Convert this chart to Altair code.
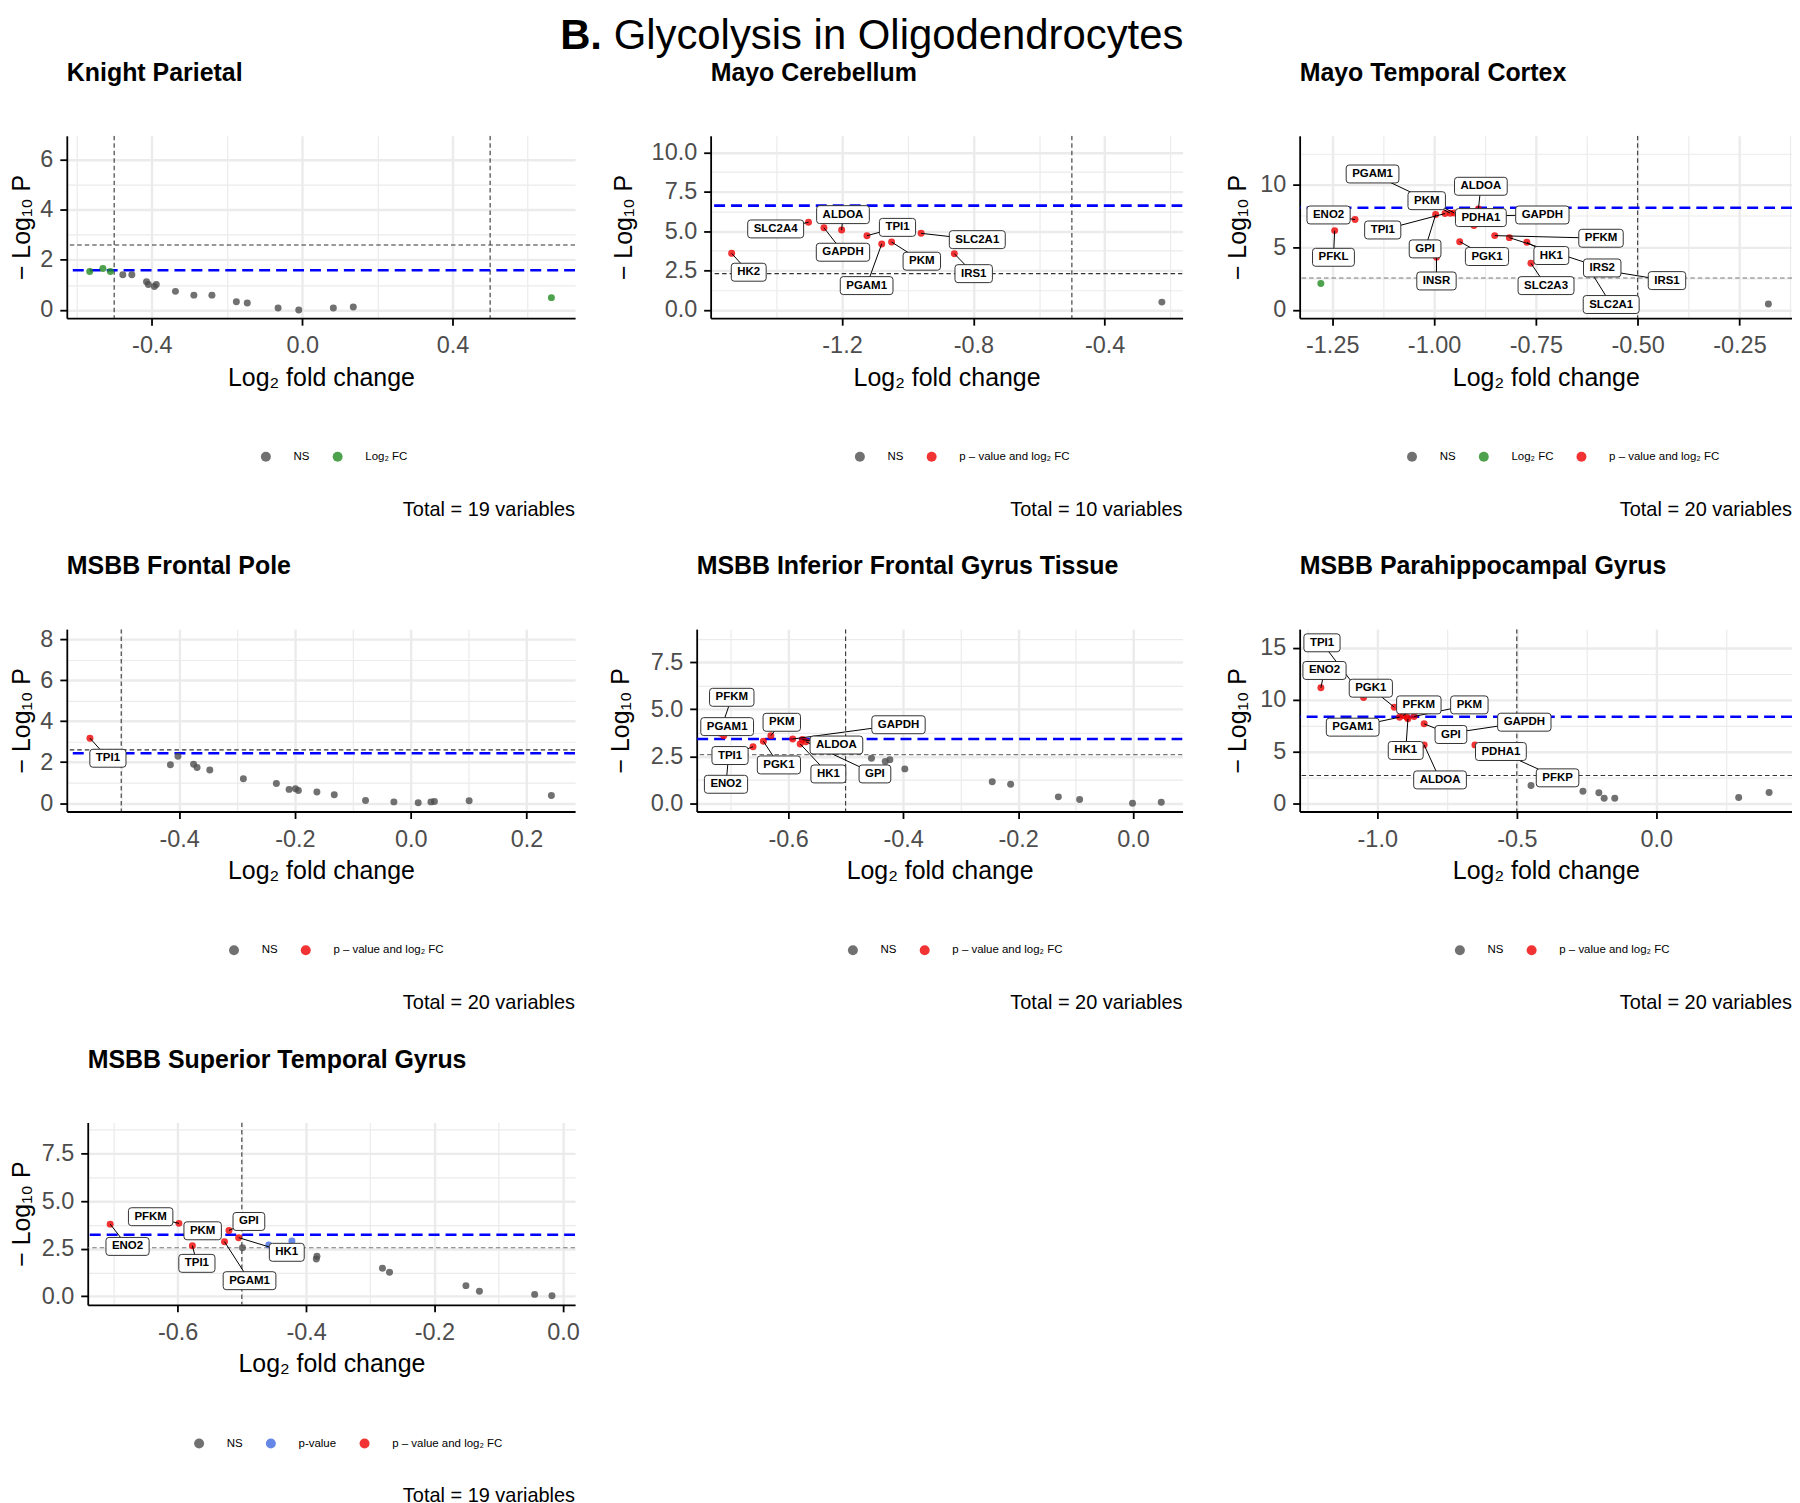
import json
import altair as alt
import pandas as pd

FONT = "Liberation Sans"

# ---------------- texts ----------------
TITLE_BOLD = "B."
TITLE_REST = "Glycolysis in Oligodendrocytes"
PANEL_NAMES = ["Knight Parietal", "Mayo Cerebellum", "Mayo Temporal Cortex", "MSBB Frontal Pole",
               "MSBB Inferior Frontal Gyrus Tissue", "MSBB Parahippocampal Gyrus",
               "MSBB Superior Temporal Gyrus"]
PANEL_TOTALS = [19, 10, 20, 20, 20, 20, 19]
X_TITLE = "Log\u2082 fold change"
Y_TITLE = "\u2212 Log\u2081\u2080 P"

CAT_CODES = ["N", "F", "P", "B"]
CAT_LABELS = ["NS", "Log\u2082 FC", "p-value", "p \u2013 value and log\u2082 FC"]
CAT_COLORS = ["#4d4d4d", "#228B22", "#4169E1", "#EE0000"]

# ---------------- thresholds ----------------
FC_CUTOFF = [-0.5, 0.5]
P_CUTOFF = [2.59, 2.30, 2.55, 2.60, 2.59, 2.67, 2.55]
FDR_LINE = [1.58, 6.62, 8.16, 2.43, 3.42, 8.34, 3.23]

# ---------------- data: Knight Parietal ----------------
P1_LFC = [-0.565, -0.530, -0.510, -0.477, -0.453, -0.414, -0.409, -0.393, -0.388, -0.337,
          -0.288, -0.240, -0.175, -0.146, -0.064, -0.009, 0.083, 0.136, 0.663]
P1_NLP = [1.53, 1.65, 1.53, 1.40, 1.40, 1.12, 1.01, 0.93, 1.01, 0.74,
          0.59, 0.59, 0.33, 0.28, 0.08, 0.00, 0.08, 0.12, 0.49]
P1_CAT = ["F", "F", "F", "N", "N", "N", "N", "N", "N", "N", "N", "N", "N", "N", "N", "N", "N", "N", "F"]
P1_GENE = []
P1_LAB_X = []
P1_LAB_Y = []

# ---------------- data: Mayo Cerebellum ----------------
P2_GENE = ["HK2", "SLC2A4", "GAPDH", "ALDOA", "TPI1", "PGAM1", "PKM", "SLC2A1", "IRS1", ""]
P2_LFC = [-1.536, -1.302, -1.255, -1.201, -1.124, -1.079, -1.049, -0.959, -0.858, -0.226]
P2_NLP = [3.59, 5.56, 5.22, 5.07, 4.71, 4.19, 4.31, 4.86, 3.57, 0.49]
P2_CAT = ["B", "B", "B", "B", "B", "B", "B", "B", "B", "N"]
P2_LAB_X = [-1.484, -1.402, -1.197, -1.197, -1.031, -1.125, -0.957, -0.788, -0.799, None]
P2_LAB_Y = [2.39, 5.14, 3.66, 6.05, 5.24, 1.54, 3.09, 4.46, 2.30, None]

# ---------------- data: Mayo Temporal Cortex ----------------
P3_GENE = ["PFKL", "ENO2", "GPI", "TPI1", "PKM", "PGAM1", "ALDOA", "PDHA1", "GAPDH", "INSR",
           "PGK1", "PFKM", "IRS2", "HK1", "SLC2A3", "SLC2A1", "IRS1", "", ""]
P3_LFC = [-1.244, -1.194, -0.996, -0.973, -0.960, -0.950, -0.891, -0.902, -0.836, -0.994,
          -0.937, -0.851, -0.815, -0.772, -0.762, -0.614, -0.552, -1.278, -0.179]
P3_NLP = [6.33, 7.21, 7.61, 7.69, 7.72, 7.74, 8.06, 6.73, 7.53, 4.20,
          5.45, 5.93, 5.77, 5.40, 3.72, 3.00, 3.00, 2.10, 0.48]
P3_CAT = ["B", "B", "B", "B", "B", "B", "B", "B", "B", "B",
          "B", "B", "B", "B", "B", "B", "B", "F", "N"]
P3_LAB_X = [-1.247, -1.259, -1.022, -1.126, -1.018, -1.151, -0.885, -0.885, -0.734, -0.994,
            -0.870, -0.590, -0.587, -0.712, -0.725, -0.565, -0.428, None, None]
P3_LAB_Y = [4.20, 7.58, 4.87, 6.38, 8.72, 10.85, 9.87, 7.37, 7.58, 2.31,
            4.26, 5.72, 3.35, 4.34, 1.94, 0.43, 2.34, None, None]

# ---------------- data: MSBB Frontal Pole ----------------
P4_GENE = ["TPI1", "", "", "", "", "", "", "", "", "", "", "", "", "", "", "", "", "", "", ""]
P4_LFC = [-0.554, -0.415, -0.402, -0.375, -0.369, -0.347, -0.289, -0.232, -0.210, -0.199,
          -0.194, -0.162, -0.132, -0.078, -0.029, 0.013, 0.035, 0.041, 0.101, 0.243]
P4_NLP = [3.17, 1.87, 2.29, 1.90, 1.74, 1.62, 1.19, 0.96, 0.67, 0.70,
          0.62, 0.54, 0.41, 0.13, 0.06, 0.02, 0.06, 0.08, 0.11, 0.37]
P4_CAT = ["B", "N", "N", "N", "N", "N", "N", "N", "N", "N",
          "N", "N", "N", "N", "N", "N", "N", "N", "N", "N"]
P4_LAB_X = [-0.523] + [None] * 19
P4_LAB_Y = [2.19] + [None] * 19

# ---------------- data: MSBB Inferior Frontal Gyrus Tissue ----------------
P5_GENE = ["PFKM", "PGAM1", "ENO2", "TPI1", "PGK1", "PKM", "GAPDH", "HK1", "ALDOA", "GPI",
           "", "", "", "", "", "", "", "", "", ""]
P5_LFC = [-0.719, -0.712, -0.703, -0.661, -0.643, -0.630, -0.592, -0.579, -0.575, -0.569,
          -0.455, -0.431, -0.423, -0.397, -0.245, -0.213, -0.130, -0.093, -0.001, 0.049]
P5_NLP = [3.74, 3.60, 2.71, 3.01, 3.30, 3.60, 3.42, 3.16, 3.39, 3.28,
          2.39, 2.23, 2.32, 1.83, 1.15, 1.01, 0.34, 0.20, 0.00, 0.05]
P5_CAT = ["B", "B", "B", "B", "B", "B", "B", "B", "B", "B",
          "N", "N", "N", "N", "N", "N", "N", "N", "N", "N"]
P5_LAB_X = [-0.698, -0.706, -0.708, -0.701, -0.616, -0.611, -0.408, -0.530, -0.516, -0.449] + [None] * 10
P5_LAB_Y = [5.64, 4.08, 1.01, 2.54, 2.04, 4.31, 4.18, 1.56, 3.10, 1.56] + [None] * 10

# ---------------- data: MSBB Parahippocampal Gyrus ----------------
P6_GENE = ["ENO2", "TPI1", "PGK1", "PFKM", "PGAM1", "HK1", "PKM", "GAPDH", "GPI", "PDHA1",
           "ALDOA", "PFKP", "", "", "", "", "", "", "", ""]
P6_LFC = [-1.202, -1.049, -0.939, -0.907, -0.920, -0.890, -0.868, -0.712, -0.832, -0.650,
          -0.832, -0.583, -0.894, -0.449, -0.263, -0.206, -0.187, -0.149, 0.295, 0.404]
P6_NLP = [11.14, 10.20, 9.27, 8.46, 8.30, 8.14, 8.37, 6.86, 7.66, 5.63,
          5.63, 5.25, 8.30, 1.71, 1.16, 1.00, 0.48, 0.48, 0.55, 1.03]
P6_CAT = ["B", "B", "B", "B", "B", "B", "B", "B", "B", "B",
          "B", "B", "B", "N", "N", "N", "N", "N", "N", "N"]
P6_LAB_X = [-1.189, -1.198, -1.023, -0.851, -1.088, -0.898, -0.670, -0.473, -0.736, -0.557,
            -0.775, -0.354] + [None] * 8
P6_LAB_Y = [12.81, 15.48, 11.10, 9.49, 7.34, 5.09, 9.49, 7.82, 6.63, 4.99,
            2.25, 2.45] + [None] * 8

# ---------------- data: MSBB Superior Temporal Gyrus ----------------
P7_GENE = ["ENO2", "PFKM", "TPI1", "PKM", "PGAM1", "GPI", "HK1",
           "", "", "", "", "", "", "", "", "", "", ""]
P7_LFC = [-0.705, -0.598, -0.577, -0.555, -0.527, -0.520, -0.505, -0.458, -0.422,
          -0.499, -0.384, -0.383, -0.281, -0.270, -0.151, -0.130, -0.044, -0.017]
P7_NLP = [3.79, 3.83, 2.66, 3.18, 2.87, 3.46, 3.08, 2.69, 2.90,
          2.55, 1.96, 2.10, 1.47, 1.26, 0.56, 0.26, 0.10, 0.03]
P7_CAT = ["B", "B", "B", "B", "B", "B", "B", "P", "P",
          "N", "N", "N", "N", "N", "N", "N", "N", "N"]
P7_LAB_X = [-0.678, -0.642, -0.570, -0.561, -0.488, -0.489, -0.430] + [None] * 11
P7_LAB_Y = [2.62, 4.18, 1.73, 3.44, 0.82, 3.93, 2.31] + [None] * 11

# ---------------- axes ticks ----------------
X_MAJOR = [[-0.4, 0.0, 0.4], [-1.2, -0.8, -0.4], [-1.25, -1.0, -0.75, -0.5, -0.25],
           [-0.4, -0.2, 0.0, 0.2], [-0.6, -0.4, -0.2, 0.0], [-1.0, -0.5, 0.0], [-0.6, -0.4, -0.2, 0.0]]
X_MINOR = [[-0.6, -0.2, 0.2, 0.6], [-1.4, -1.0, -0.6, -0.2], [-1.125, -0.875, -0.625, -0.375, -0.125],
           [-0.5, -0.3, -0.1, 0.1], [-0.7, -0.5, -0.3, -0.1], [-1.25, -0.75, -0.25, 0.25],
           [-0.7, -0.5, -0.3, -0.1]]
Y_MAJOR = [[0, 2, 4, 6], [0, 2.5, 5, 7.5, 10], [0, 5, 10], [0, 2, 4, 6, 8], [0, 2.5, 5, 7.5],
           [0, 5, 10, 15], [0, 2.5, 5, 7.5]]
Y_MINOR = [[1, 3, 5], [1.25, 3.75, 6.25, 8.75], [2.5, 7.5, 12.5], [1, 3, 5, 7],
           [1.25, 3.75, 6.25, 8.75], [2.5, 7.5, 12.5], [1.25, 3.75, 6.25, 8.75]]
X_FMT = [".1f", ".1f", ".2f", ".1f", ".1f", ".1f", ".1f"]
Y_FMT = [".0f", ".1f", ".0f", ".0f", ".1f", ".0f", ".1f"]

# ---------------- layout / style ----------------
WIDTHS = [510, 473.5, 494, 510, 487.5, 494, 489]
HEIGHT = 183
X_DOMAIN = [[-0.626, 0.726], [-1.600, -0.163], [-1.330, -0.121], [-0.594, 0.284],
            [-0.759, 0.086], [-1.278, 0.486], [-0.740, 0.019]]
Y_DOMAIN = [[-0.33, 6.95], [-0.53, 11.06], [-0.66, 13.9], [-0.41, 8.49],
            [-0.44, 9.27], [-0.80, 16.8], [-0.45, 9.13]]
HLINE_COLOR = ["#333333", "#333333", "#777777", "#333333", "#777777", "#333333", "#777777"]
Y_TITLE_PAD = [32.8, 74.8, 49.8, 32.8, 63.8, 49.8, 53.8]
LEGEND_X = [194, 144, 107, 162, 151, 155, 106]
TICK_FS = 23.5
AXIS_TITLE_FS = 25
SUBTITLE_FS = 25
TITLE_FS = 42

PANEL_DATA = [
    (P1_LFC, P1_NLP, P1_CAT, P1_GENE, P1_LAB_X, P1_LAB_Y),
    (P2_LFC, P2_NLP, P2_CAT, P2_GENE, P2_LAB_X, P2_LAB_Y),
    (P3_LFC, P3_NLP, P3_CAT, P3_GENE, P3_LAB_X, P3_LAB_Y),
    (P4_LFC, P4_NLP, P4_CAT, P4_GENE, P4_LAB_X, P4_LAB_Y),
    (P5_LFC, P5_NLP, P5_CAT, P5_GENE, P5_LAB_X, P5_LAB_Y),
    (P6_LFC, P6_NLP, P6_CAT, P6_GENE, P6_LAB_X, P6_LAB_Y),
    (P7_LFC, P7_NLP, P7_CAT, P7_GENE, P7_LAB_X, P7_LAB_Y),
]

BOLD_W = {"A": 722, "B": 722, "C": 722, "D": 722, "E": 667, "F": 611, "G": 778, "H": 722,
          "I": 278, "J": 556, "K": 722, "L": 611, "M": 833, "N": 722, "O": 778, "P": 667,
          "Q": 778, "R": 722, "S": 667, "T": 611, "U": 722, "V": 667, "W": 944, "X": 667,
          "Y": 667, "Z": 611}
LABEL_FS = 11.5


def text_width(s, fs):
    return sum(BOLD_W.get(c, 556) for c in s) * fs / 1000.0


def box_path(w, h, r=3.0, unit=10.0):
    a, b, q = w / 2 / unit, h / 2 / unit, r / unit
    f = lambda v: "%.3f" % v
    return ("M" + f(-a + q) + "," + f(-b) + "L" + f(a - q) + "," + f(-b) +
            "Q" + f(a) + "," + f(-b) + "," + f(a) + "," + f(-b + q) +
            "L" + f(a) + "," + f(b - q) +
            "Q" + f(a) + "," + f(b) + "," + f(a - q) + "," + f(b) +
            "L" + f(-a + q) + "," + f(b) +
            "Q" + f(-a) + "," + f(b) + "," + f(-a) + "," + f(b - q) +
            "L" + f(-a) + "," + f(-b + q) +
            "Q" + f(-a) + "," + f(-b) + "," + f(-a + q) + "," + f(-b) + "Z")


def make_axis(major, minor, fmt, title, is_y, tpad=10):
    test = "indexof(%s, datum.value) >= 0" % json.dumps(major)
    kw = dict(
        values=sorted(set(major + minor)),
        labelExpr="%s ? replace(format(datum.value, '%s'), '\u2212', '-') : ''" % (test, fmt),
        title=title, grid=True, gridColor="#ebebeb",
        gridWidth={"condition": {"test": test, "value": 2.4}, "value": 1.2},
        tickOpacity={"condition": {"test": test, "value": 1}, "value": 0},
        tickColor="black", tickWidth=1.8, tickSize=7,
        domainColor="black", domainWidth=1.8,
        labelFont=FONT, labelFontSize=TICK_FS, labelColor="#4d4d4d",
        labelOverlap=False, labelFlush=False,
        titleFont=FONT, titleFontSize=AXIS_TITLE_FS, titleFontWeight="normal", titleColor="black",
    )
    if is_y:
        kw.update(labelPadding=7, titlePadding=tpad, minExtent=0, maxExtent=0)
    else:
        kw.update(labelPadding=8.8, titlePadding=7.9)
    return alt.Axis(**kw)


def build_panel(i):
    lfc, nlp, cat, gene, labx, laby = PANEL_DATA[i]
    W = WIDTHS[i]
    xs = alt.Scale(domain=X_DOMAIN[i], nice=False, zero=False)
    ys = alt.Scale(domain=Y_DOMAIN[i], nice=False, zero=False)
    X = alt.X("lfc:Q", scale=xs, axis=make_axis(X_MAJOR[i], X_MINOR[i], X_FMT[i], X_TITLE, False))
    Y = alt.Y("nlp:Q", scale=ys, axis=make_axis(Y_MAJOR[i], Y_MINOR[i], Y_FMT[i], Y_TITLE, True,
                                                Y_TITLE_PAD[i]))

    present = [k for k, c in enumerate(CAT_CODES) if c in cat]
    pts = pd.DataFrame({"lfc": lfc, "nlp": nlp,
                        "cat": [CAT_LABELS[CAT_CODES.index(c)] for c in cat]})
    color = alt.Color(
        "cat:N",
        scale=alt.Scale(domain=[CAT_LABELS[k] for k in present], range=[CAT_COLORS[k] for k in present]),
        legend=alt.Legend(orient="none", legendX=LEGEND_X[i], legendY=316, direction="horizontal",
                          title=None, labelFont=FONT, labelFontSize=11.5, labelColor="black",
                          symbolType="circle", symbolSize=100, symbolOpacity=0.8, symbolStrokeWidth=0,
                          labelOffset=22, columnPadding=22, padding=0, labelLimit=400),
    )

    layers = [
        alt.Chart(pd.DataFrame({"lfc": FC_CUTOFF})).mark_rule(
            color="#333333", strokeWidth=1.1, strokeDash=[4.5, 3], clip=True).encode(x=X),
        alt.Chart(pd.DataFrame({"nlp": [P_CUTOFF[i]]})).mark_rule(
            color=HLINE_COLOR[i], strokeWidth=1.1, strokeDash=[4.5, 3], clip=True).encode(y=Y),
        alt.Chart(pd.DataFrame({"nlp": [FDR_LINE[i]]})).mark_rule(
            color="#0000ff", strokeWidth=2.6, strokeDash=[11, 6], clip=True).encode(y=Y),
        alt.Chart(pts).mark_circle(size=49, opacity=0.8).encode(x=X, y=Y, color=color),
    ]

    labs = [(g, px, py, lx, ly) for g, px, py, lx, ly in zip(gene, lfc, nlp, labx, laby) if g]
    if labs:
        seg = pd.DataFrame({"lfc": [r[1] for r in labs], "nlp": [r[2] for r in labs],
                            "lx": [r[3] for r in labs], "ly": [r[4] for r in labs]})
        box = pd.DataFrame({"lfc": [r[3] for r in labs], "nlp": [r[4] for r in labs],
                            "gene": [r[0] for r in labs],
                            "path": [box_path(text_width(r[0], LABEL_FS) + 12, 18) for r in labs]})
        layers += [
            alt.Chart(seg).mark_rule(color="black", strokeWidth=1).encode(
                x=X, y=Y, x2="lx:Q", y2="ly:Q"),
            alt.Chart(box).mark_point(filled=True, fill="white", stroke="#333333", strokeWidth=1,
                                      opacity=1, size=400).encode(
                x=X, y=Y, shape=alt.Shape("path:N", scale=None)),
            alt.Chart(box).mark_text(font=FONT, fontSize=LABEL_FS, fontWeight="bold",
                                     color="black").encode(x=X, y=Y, text="gene:N"),
        ]

    layers += [
        alt.Chart(pd.DataFrame({"t": [PANEL_NAMES[i]]})).mark_text(
            align="left", baseline="alphabetic", font=FONT, fontSize=SUBTITLE_FS, fontWeight="bold",
            color="black").encode(x=alt.value(0), y=alt.value(-55), text="t:N"),
        alt.Chart(pd.DataFrame({"t": ["Total = %d variables" % PANEL_TOTALS[i]]})).mark_text(
            align="right", baseline="middle", font=FONT, fontSize=20, color="black").encode(
            x=alt.value(W), y=alt.value(375), text="t:N"),
    ]
    if i == 1:
        layers += [
            alt.Chart(pd.DataFrame({"t": [TITLE_BOLD]})).mark_text(
                align="left", baseline="alphabetic", font=FONT, fontSize=TITLE_FS, fontWeight="bold",
                color="black").encode(x=alt.value(-151), y=alt.value(-86.7), text="t:N"),
            alt.Chart(pd.DataFrame({"t": [TITLE_REST]})).mark_text(
                align="left", baseline="alphabetic", font=FONT, fontSize=TITLE_FS, fontWeight="normal",
                color="black").encode(x=alt.value(-97.3), y=alt.value(-86.7), text="t:N"),
        ]
    return alt.layer(*layers).properties(width=W, height=HEIGHT)


def spacer(w):
    return alt.Chart(pd.DataFrame({"s": [0]})).mark_point(opacity=0).encode(
        x=alt.value(0), y=alt.value(0)).properties(width=w, height=HEIGHT)


def row(*charts):
    return alt.hconcat(*charts, spacing=0, bounds="flush").resolve_scale(
        x="independent", y="independent", color="independent").resolve_legend(color="independent")


panels = [build_panel(i) for i in range(7)]
row1 = row(panels[0], spacer(136), panels[1], spacer(116.5), panels[2])
row2 = row(panels[3], spacer(122), panels[4], spacer(116.5), panels[5])
row3 = row(spacer(21), panels[6])

chart = alt.vconcat(row1, row2, row3, spacing=35).resolve_scale(
    x="independent", y="independent", color="independent").resolve_legend(
    color="independent").properties(
    padding={"left": 1, "top": 4.7, "right": 0, "bottom": 0}, background="white"
).configure(font=FONT).configure_view(strokeWidth=0)

chart.save("out.html", embed_options={"renderer": "svg", "actions": False})
